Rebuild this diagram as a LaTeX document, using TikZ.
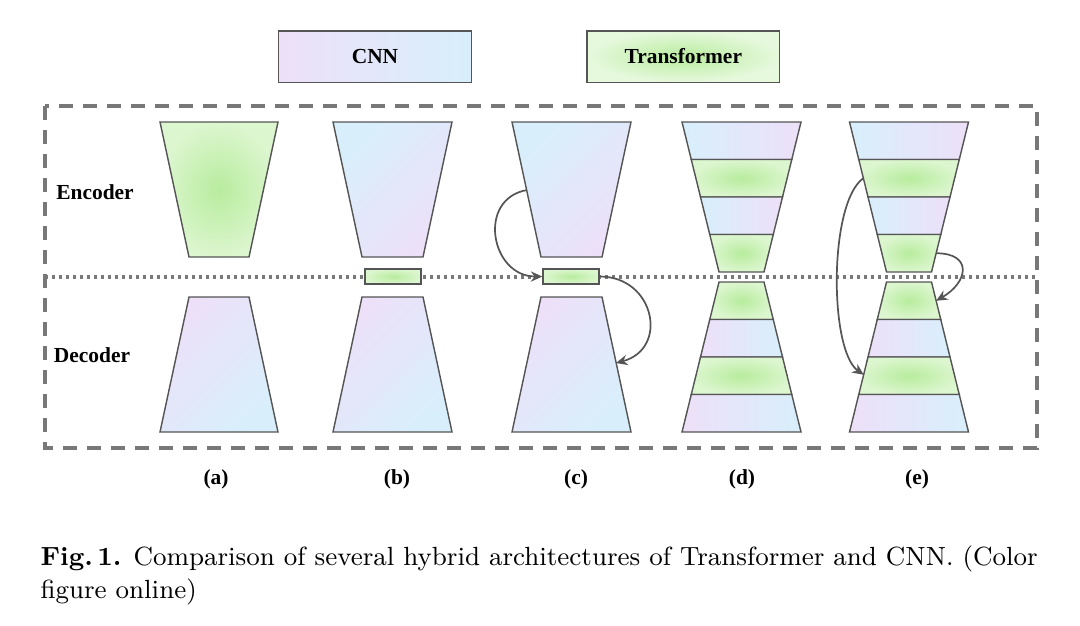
\documentclass[tikz,border=0pt]{standalone}
\usepackage{fontspec}
\usepackage{tikz}
\newfontfamily\figfont{Liberation Serif}
\usetikzlibrary{arrows.meta}
\usetikzlibrary{positioning}
\definecolor{cblue}{RGB}{216,239,251}
\definecolor{cpurple}{RGB}{237,224,248}
\definecolor{tgreen}{RGB}{184,236,158}
\definecolor{tpale}{RGB}{220,246,207}
\definecolor{mgray}{RGB}{85,85,85}
\definecolor{fgray}{RGB}{120,120,120}
\tikzset{outl/.style = {draw = mgray, line width = 0.5pt}}
\tikzset{trans/.style = {outl, inner color = tgreen, outer color = tpale}}
\tikzset{enccnn/.style = {outl, top color = cblue, bottom color = cpurple, shading angle = 45}}
\tikzset{deccnn/.style = {outl, top color = cpurple, bottom color = cblue, shading angle = 45}}
\tikzset{enclayer/.style = {outl, left color = cblue, right color = cpurple}}
\tikzset{declayer/.style = {outl, left color = cpurple, right color = cblue}}
\tikzset{lbl/.style = {font = \figfont\bfseries\fontsize{7.5}{9}\selectfont}}
\tikzset{keybox/.style = {outl, lbl, minimum width = 67.5pt, minimum height = 18pt}}
\tikzset{skiparrow/.style = {draw = mgray, line width = 0.6pt, -{Stealth[length = 4pt, width = 3.6pt]}}}
\newcommand{\slab}[6]{\path [#6] ({#1-#4}, #2) -- ({#1+#4}, #2) -- ({#1+#5}, #3) -- ({#1-#5}, #3) -- cycle;}

\begin{document}
\begin{tikzpicture}[x = 0.35pt, y = -0.35pt]
  \useasboundingbox (0, 0) rectangle (1080, 625);

  \node [keybox, left color = cpurple, right color = cblue] (cnnkey) at (375, 56.5) {CNN};
  \node [keybox, inner color = tgreen, outer color = tpale!70!white, right = 39.9pt of cnnkey] (transkey) {Transformer};

  \draw [fgray, line width = 1.2pt, dash pattern = on 5pt off 3.4pt] (45, 106) rectangle (1037, 448);
  \draw [fgray, line width = 1.2pt, dash pattern = on 1.1pt off 1.35pt] (45, 277) -- (1037, 277);

  \node [lbl] (enclbl) at (95, 192) {Encoder};
  \node [lbl] (declbl) at (92, 355) {Decoder};

  % (a)
  \slab{219}{122}{257}{59}{30}{trans}
  \slab{219}{297}{432}{30}{59}{deccnn}
  % (b)
  \slab{392.5}{122}{257}{59.5}{30.5}{enccnn}
  \node [trans, inner sep = 0, minimum width = 19.6pt, minimum height = 5.25pt] (bbar) at (393, 276.5) {};
  \slab{392.5}{297}{432}{30.5}{59.5}{deccnn}
  % (c)
  \slab{571.5}{122}{257}{59.5}{30.5}{enccnn}
  \node [trans, inner sep = 0, minimum width = 19.6pt, minimum height = 5.25pt] (cbar) at (571, 276.5) {};
  \slab{571.5}{297}{432}{30.5}{59.5}{deccnn}
  \coordinate (cenc) at (527, 190);
  \coordinate (cdec) at (616, 363);
  \draw [skiparrow] (cenc) to [out = 190, in = 180, looseness = 1.5] (cbar.west);
  \draw [skiparrow] (cbar.east) to [out = 0, in = 15, looseness = 1.6] (cdec);

  % (d) and (e)
  \foreach \cx in {741.5, 909} {
    \foreach \i/\sty in {0/enclayer, 1/trans, 2/enclayer, 3/trans} {
      \pgfmathsetmacro\ya{122 + 37.5*\i}
      \pgfmathsetmacro\yb{\ya + 37.5}
      \pgfmathsetmacro\ha{59.5 - 9.25*\i}
      \pgfmathsetmacro\hb{\ha - 9.25}
      \slab{\cx}{\ya}{\yb}{\ha}{\hb}{\sty}
    }
    \foreach \i/\sty in {0/trans, 1/declayer, 2/trans, 3/declayer} {
      \pgfmathsetmacro\ya{282 + 37.5*\i}
      \pgfmathsetmacro\yb{\ya + 37.5}
      \pgfmathsetmacro\ha{22.5 + 9.25*\i}
      \pgfmathsetmacro\hb{\ha + 9.25}
      \slab{\cx}{\ya}{\yb}{\ha}{\hb}{\sty}
    }
  }
  \coordinate (elong) at (863.3, 178.25);
  \coordinate (elongend) at (863.7, 374.75);
  \coordinate (eshort) at (936.1, 253.25);
  \coordinate (eshortend) at (936.1, 300.75);
  \draw [skiparrow] (elong) to [out = 215, in = 145, looseness = 0.55] (elongend);
  \draw [skiparrow] (eshort) to [out = 0, in = 30, looseness = 2] (eshortend);

  \foreach \lab/\x in {a/216, b/397, c/576, d/742, e/917}
    \node [lbl] (lab\lab) at (\x, 479) {(\lab)};

  \node [anchor = north west, inner sep = 0, text width = 349pt, align = justify, font = \fontsize{9.2}{11.5}\selectfont] (caption) at (40, 545) {\textbf{Fig.\,1.} Comparison of several hybrid architectures of Transformer and CNN. (Color figure online)};
\end{tikzpicture}
\end{document}
